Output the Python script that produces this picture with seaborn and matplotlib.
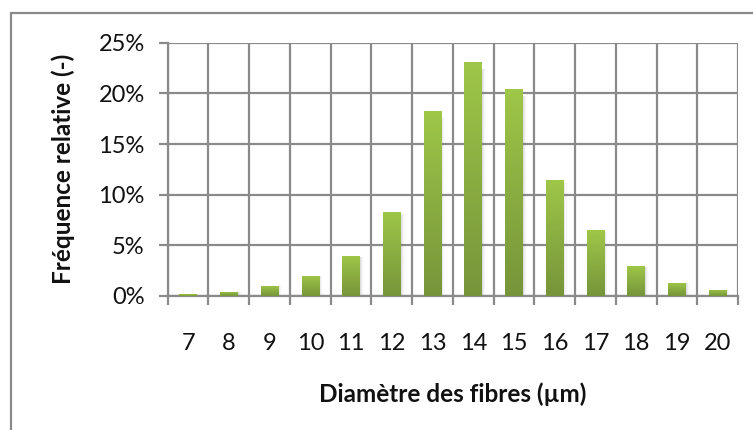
import numpy as np
import pandas as pd
import matplotlib
matplotlib.use("Agg")
import matplotlib.pyplot as plt
import matplotlib.patches as mpatches
from matplotlib.colors import LinearSegmentedColormap
from matplotlib.ticker import FixedLocator, FuncFormatter
import seaborn as sns

# Fibre diameter classes (µm) and their relative frequency (%)
diametres = [7, 8, 9, 10, 11, 12, 13, 14, 15, 16, 17, 18, 19, 20]
frequences = [0.1, 0.4, 1.0, 2.0, 3.95, 8.3, 18.25, 23.1, 20.4, 11.45, 6.5, 2.95, 1.3, 0.6]
y_ticks = [0, 5, 10, 15, 20, 25]

df = pd.DataFrame({"diam": [str(d) for d in diametres], "freq": frequences})

sns.set_theme(style="white")
plt.rcParams["font.family"] = ["Lato", "DejaVu Sans"]

W, H = 753, 430
fig = plt.figure(figsize=(W / 100, H / 100), dpi=100)
ax = fig.add_axes([167.7 / W, 1 - 296 / H, (738 - 167.7) / W, (296 - 42.7) / H])

grid_col = "#8a8a8a"
sns.barplot(data=df, x="diam", y="freq", width=0.43, color="#8db040",
            ax=ax, zorder=3, linewidth=0)

# Vertical gradient fill plus a soft shadow for each bar
cmap = LinearSegmentedColormap.from_list("vert", ["#76953a", "#8aad41", "#9fc748"])
grad = np.linspace(0, 1, 256).reshape(-1, 1)
for p in list(ax.patches):
    x0, y0 = p.get_x(), p.get_y()
    w, h = p.get_width(), p.get_height()
    for k, a in enumerate([0.10, 0.07, 0.04, 0.02]):
        sh = mpatches.Rectangle((x0 + w, y0), 0.025 * (k + 1), h * 0.97,
                                facecolor="#707070", alpha=a, lw=0, zorder=2.5)
        ax.add_patch(sh)
    im = ax.imshow(grad, cmap=cmap, aspect="auto", origin="lower",
                   extent=[x0, x0 + w, y0, y0 + max(h, 0.15)], zorder=3.2,
                   interpolation="bilinear")
    if h >= 0.15:
        im.set_clip_path(p)
    p.set_facecolor("none")

ax.set_xlim(-0.5, len(diametres) - 0.5)
ax.set_ylim(0, 25)

# Gridlines on category boundaries (x) and on percent ticks (y)
ax.xaxis.set_minor_locator(FixedLocator(np.arange(-0.5, len(diametres), 1.0)))
ax.set_yticks(y_ticks)
ax.yaxis.set_major_formatter(FuncFormatter(lambda v, _: f"{v:.0f}%"))
ax.grid(False)
ax.grid(True, which="minor", axis="x", color=grid_col, lw=1.6, zorder=1)
ax.grid(True, which="major", axis="y", color=grid_col, lw=1.6, zorder=1)

ax.tick_params(axis="x", which="major", length=0, pad=27, labelsize=17,
               labelcolor="#111111")
ax.tick_params(axis="x", which="minor", length=6.5, width=1.6, color=grid_col,
               direction="out", bottom=True)
ax.tick_params(axis="y", which="major", length=6.5, width=1.6, color=grid_col,
               direction="out", left=True, pad=10, labelsize=17,
               labelcolor="#111111")
for s in ax.spines.values():
    s.set_visible(False)
ax.spines["left"].set_visible(True)
ax.spines["left"].set_color(grid_col)
ax.spines["left"].set_linewidth(1.6)
ax.spines["bottom"].set_visible(True)
ax.spines["bottom"].set_color(grid_col)
ax.spines["bottom"].set_linewidth(1.6)

ax.set_xlabel("Diamètre des fibres (µm)", fontsize=17.5, fontweight="bold",
              labelpad=20, color="#111111")
ax.set_ylabel("Fréquence relative (-)", fontsize=17.5, fontweight="bold",
              labelpad=17, color="#111111")

# Outer chart frame (running off the right and bottom edges)
frame = mpatches.Rectangle((10.5 / W, -0.1), 2.0, 1.1 - 13 / H,
                           transform=fig.transFigure, fill=False,
                           edgecolor="#8a8a8a", lw=1.6, zorder=0)
fig.patches.append(frame)

fig.savefig("out.png", dpi=100, facecolor="white")
